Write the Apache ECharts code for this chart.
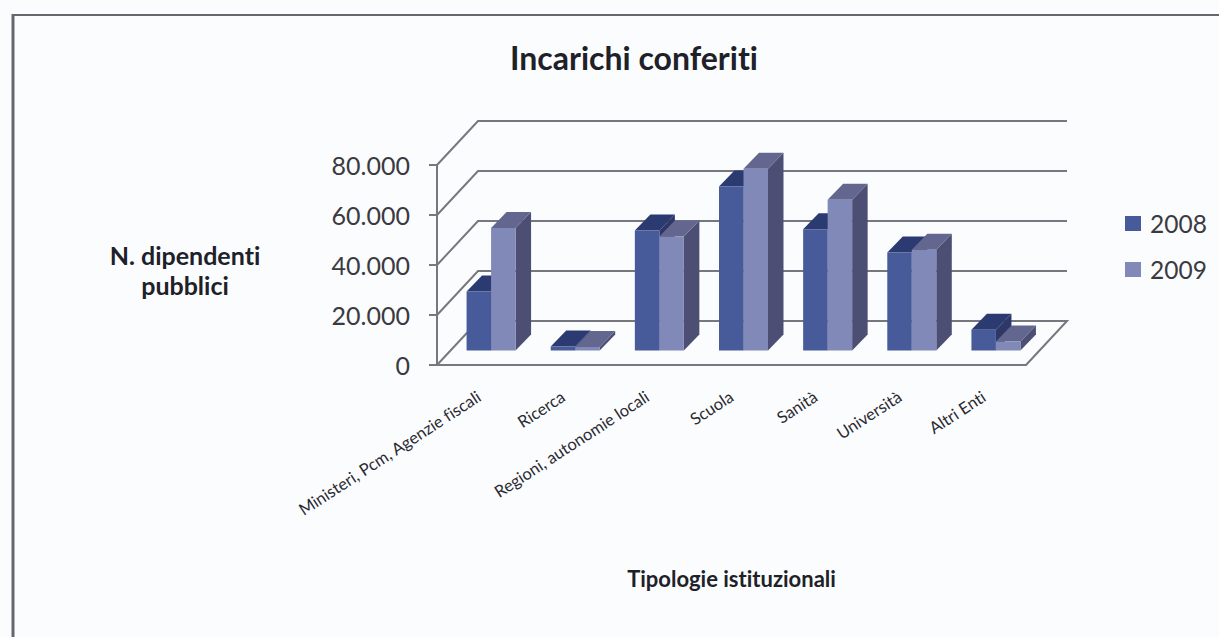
<!DOCTYPE html>
<html>
<head>
<meta charset="utf-8">
<title>Incarichi conferiti</title>
<script src="https://cdn.jsdelivr.net/npm/echarts@6/dist/echarts.min.js"></script>
<style>
    html, body { margin: 0; padding: 0; background: #fbfcfe; }
    #chart { width: 1219px; height: 637px; }
    #chart text { font-variant-ligatures: none; }
</style>
</head>
<body>
<div id="chart"></div>
<script>
var categories = ['Ministeri, Pcm, Agenzie fiscali', 'Ricerca', 'Regioni, autonomie locali', 'Scuola', 'Sanità', 'Università', 'Altri Enti'];
var values2008 = [23600, 1600, 48000, 65600, 48500, 39200, 8300];
var values2009 = [49000, 1400, 45600, 72700, 60300, 40300, 3600];
var yTicks = [0, 20000, 40000, 60000, 80000];

var textColor = '#3a3a40';
var lineColor = '#77777f';

// offset of the back wall from the front plane
var wallDx = 41, wallDy = -44;
// bars stand a bit behind the front edge of the floor
var barDx = 12, barDy = -14.5, barW = 24.5, barDepthX = 15.5, barDepthY = -16;

var colors2008 = { front: '#475b9a', top: '#2b3a70', side: '#2f3766' };
var colors2009 = { front: '#8189b8', top: '#63678f', side: '#4d4e73' };

function formatTick(v) {
    return String(v).replace(/\B(?=(\d{3})+$)/g, '.');
}

// one wall line per tick: diagonal from the axis, then along the back wall
function renderWall(params, api) {
    var y = api.coord([0, api.value(1)])[1];
    var sys = params.coordSys;
    var points = [
        [sys.x, y],
        [sys.x + wallDx, y + wallDy],
        [sys.x + sys.width + wallDx, y + wallDy]
    ];
    if (api.value(1) === 0) {
        points.push([sys.x + sys.width, y]);
    }
    return {
        type: 'polyline',
        shape: { points: points },
        style: { stroke: lineColor, lineWidth: 2, fill: null }
    };
}

// side -1 is the left bar of a pair, 0 the right one
function makeBarRender(side, c) {
    return function (params, api) {
        var base = api.coord([api.value(0), 0]);
        var top = api.coord([api.value(0), api.value(1)]);
        var x0 = base[0] + barDx + side * barW;
        var x1 = x0 + barW;
        var y0 = base[1] + barDy;
        var y1 = top[1] + barDy;
        return {
            type: 'group',
            children: [
                { type: 'polygon', shape: { points: [[x1, y0], [x1 + barDepthX, y0 + barDepthY], [x1 + barDepthX, y1 + barDepthY], [x1, y1]] }, style: { fill: c.side } },
                { type: 'polygon', shape: { points: [[x0, y1], [x0 + barDepthX, y1 + barDepthY], [x1 + barDepthX, y1 + barDepthY], [x1, y1]] }, style: { fill: c.top } },
                { type: 'rect', shape: { x: x0, y: y1, width: barW, height: y0 - y1 }, style: { fill: c.front } }
            ]
        };
    };
}

function pairs(values) {
    return values.map(function (v, i) { return [i, v]; });
}

var chart = echarts.init(document.getElementById('chart'), null, { renderer: 'svg' });

chart.setOption({
    animation: false,
    backgroundColor: '#fbfcfe',
    textStyle: { fontFamily: 'Lato' },
    title: {
        text: 'Incarichi conferiti',
        left: 629,
        top: 36,
        textAlign: 'center',
        textStyle: { fontFamily: 'Lato', fontWeight: 'bold', fontSize: 32, color: '#202028' }
    },
    legend: {
        orient: 'vertical',
        left: 1125,
        top: 211,
        padding: 0,
        itemWidth: 16,
        itemHeight: 15,
        itemGap: 21,
        icon: 'rect',
        data: ['2008', '2009'],
        textStyle: { fontFamily: 'Lato', fontSize: 24.5, color: textColor, padding: [0, 0, 0, 4] }
    },
    grid: { left: 437, right: 193, top: 165, bottom: 272 },
    xAxis: {
        type: 'category',
        data: categories,
        name: 'Tipologie istituzionali',
        nameLocation: 'middle',
        nameGap: 202,
        nameTextStyle: { fontFamily: 'Lato', fontWeight: 'bold', fontSize: 22, color: '#202028' },
        axisLine: { lineStyle: { color: lineColor, width: 2 } },
        axisTick: { show: false },
        axisLabel: { rotate: 33, margin: 30, interval: 0, fontFamily: 'Lato', fontSize: 16.5, color: '#2a2a30' }
    },
    yAxis: {
        type: 'value',
        min: 0,
        max: 80000,
        interval: 20000,
        splitLine: { show: false },
        axisLine: { show: true, lineStyle: { color: lineColor, width: 2 } },
        axisTick: { show: true, length: 8, lineStyle: { color: lineColor, width: 2 } },
        axisLabel: { margin: 27, fontFamily: 'Lato', fontSize: 25, color: textColor, formatter: formatTick }
    },
    series: [
        {
            name: 'wall',
            type: 'custom',
            silent: true,
            renderItem: renderWall,
            encode: { x: 0, y: 1 },
            data: yTicks.map(function (t) { return [0, t]; })
        },
        {
            name: '2008',
            type: 'custom',
            renderItem: makeBarRender(-1, colors2008),
            itemStyle: { color: colors2008.front },
            encode: { x: 0, y: 1 },
            data: pairs(values2008)
        },
        {
            name: '2009',
            type: 'custom',
            renderItem: makeBarRender(0, colors2009),
            itemStyle: { color: colors2009.front },
            encode: { x: 0, y: 1 },
            data: pairs(values2009)
        }
    ],
    graphic: [
        // scanned page frame, only top and left edges show
        { type: 'line', shape: { x1: 12, y1: 15, x2: 1219, y2: 15 }, style: { stroke: '#66666e', lineWidth: 2 } },
        { type: 'line', shape: { x1: 13, y1: 14, x2: 13, y2: 637 }, style: { stroke: '#66666e', lineWidth: 3 } },
        {
            type: 'text',
            x: 185,
            y: 270,
            style: {
                text: 'N. dipendenti\npubblici',
                align: 'center',
                verticalAlign: 'middle',
                lineHeight: 30,
                fontFamily: 'Lato',
                fontWeight: 'bold',
                fontSize: 25,
                fill: '#202028'
            }
        }
    ]
});
</script>
</body>
</html>
